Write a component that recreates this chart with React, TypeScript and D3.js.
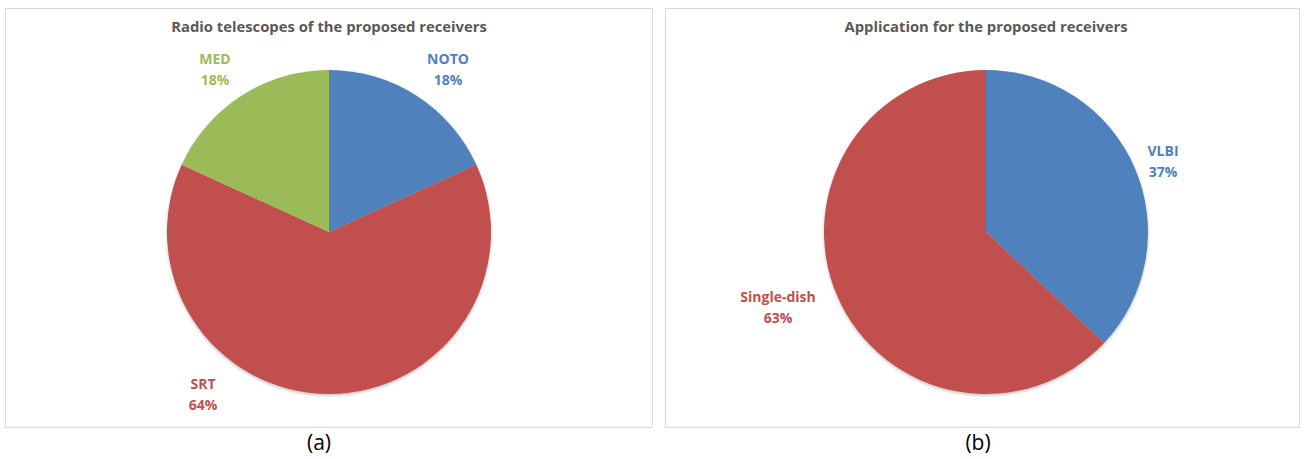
import React from "react";
import * as d3 from "d3";

const telescopeNames = ["NOTO", "SRT", "MED"];
const telescopeCounts = [2, 7, 2];
const telescopePct = ["18%", "64%", "18%"];
const telescopeColors = ["#4F81BD", "#C0504D", "#9BBB59"];

const applicationNames = ["VLBI", "Single-dish"];
const applicationValues = [37, 63];
const applicationPct = ["37%", "63%"];
const applicationColors = ["#4F81BD", "#C0504D"];

const titles = ["Radio telescopes of the proposed receivers", "Application for the proposed receivers"];
const captions = ["(a)", "(b)"];

// label positions (relative to pie center) chosen to match original layout
const telescopeLabelPos = [
  [119, -168],
  [-126, 157],
  [-114, -168],
];
const applicationLabelPos = [
  [177, -76],
  [-208, 70],
];

const FONT = "'Open Sans', 'Liberation Sans', sans-serif";

function Pie({ cx, cy, r, values, colors, names, pcts, labelPos }: any) {
  const pie = d3.pie<number>().sort(null).value((d) => d);
  const arcs = pie(values);
  const arc = d3.arc<d3.PieArcDatum<number>>().innerRadius(0).outerRadius(r);
  return (
    <g transform={`translate(${cx},${cy})`}>
      <g filter="url(#shadow)">
        {arcs.map((a, i) => (
          <path key={i} d={arc(a) as string} fill={colors[i]} />
        ))}
      </g>
      {arcs.map((a, i) => (
        <text
          key={"t" + i}
          x={labelPos[i][0]}
          y={labelPos[i][1]}
          textAnchor="middle"
          fill={colors[i]}
          fontFamily={FONT}
          fontWeight={700}
          fontSize={14}
        >
          <tspan x={labelPos[i][0]} dy="0">{names[i]}</tspan>
          <tspan x={labelPos[i][0]} dy="21">{pcts[i]}</tspan>
        </text>
      ))}
    </g>
  );
}

export default function App() {
  const panels = [
    { x: 5.5, y: 8.5, w: 647, h: 419, cx: 329, cy: 232 },
    { x: 665.5, y: 8.5, w: 634, h: 419, cx: 986, cy: 232 },
  ];
  return (
    <svg
      width={1308}
      height={459}
      style={{ position: "absolute", left: 0, top: 0, background: "#fff" }}
    >
      <defs>
        <filter id="shadow" x="-10%" y="-10%" width="120%" height="120%">
          <feDropShadow dx="0" dy="1.5" stdDeviation="1.5" floodColor="#000" floodOpacity="0.25" />
        </filter>
      </defs>
      {panels.map((p, i) => (
        <g key={i}>
          <rect x={p.x} y={p.y} width={p.w} height={p.h} fill="#fff" stroke="#D9D9D9" strokeWidth={1} />
          <text
            x={p.cx}
            y={32}
            textAnchor="middle"
            fill="#595959"
            fontFamily={FONT}
            fontWeight={700}
            fontSize={14.8}
          >
            {titles[i]}
          </text>
          <text
            x={i === 0 ? 319 : 978}
            y={450}
            textAnchor="middle"
            fill="#000"
            fontFamily={FONT}
            fontSize={21}
          >
            {captions[i]}
          </text>
        </g>
      ))}
      <Pie
        cx={329}
        cy={232}
        r={162}
        values={telescopeCounts}
        colors={telescopeColors}
        names={telescopeNames}
        pcts={telescopePct}
        labelPos={telescopeLabelPos}
      />
      <Pie
        cx={986}
        cy={232}
        r={162}
        values={applicationValues}
        colors={applicationColors}
        names={applicationNames}
        pcts={applicationPct}
        labelPos={applicationLabelPos}
      />
    </svg>
  );
}
